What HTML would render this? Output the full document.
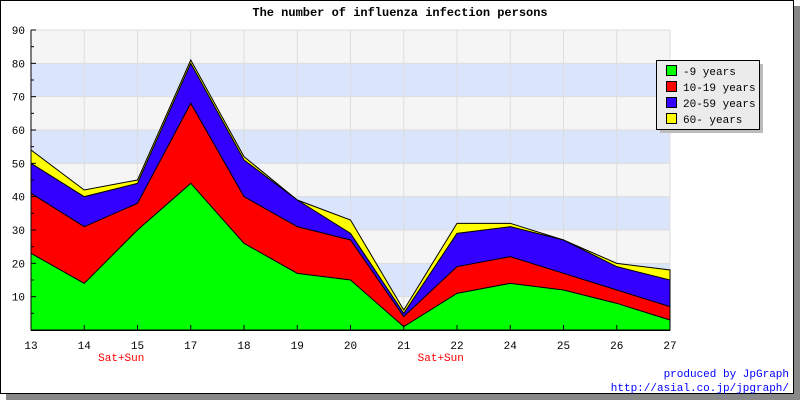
<!DOCTYPE html>
<html><head><meta charset="utf-8"><style>
body{margin:0;background:#fff}
svg{display:block;font-family:"Liberation Mono","DejaVu Sans Mono",monospace}
</style></head><body>
<svg width="800" height="400" viewBox="0 0 800 400">
<rect x="6" y="6" width="794" height="394" fill="#888"/>
<rect x="0.5" y="0.5" width="793" height="393" fill="#fff" stroke="#000"/>
<text x="400" y="16" text-anchor="middle" font-weight="bold" font-size="12">The number of influenza infection persons</text>
<g id="bands"></g><g id="grid"></g><g id="areas"></g><g id="axes"></g>
<g>
<rect x="660" y="64" width="103" height="69" fill="#bbb"/>
<rect x="656.5" y="60.5" width="103" height="69" fill="#ebebeb" stroke="#000"/>
<rect x="666.5" y="65.5" width="10" height="10" fill="#00ff00" stroke="#000"/><text x="683" y="75" font-size="11">-9 years</text>
<rect x="666.5" y="81.5" width="10" height="10" fill="#ff0000" stroke="#000"/><text x="683" y="91" font-size="11">10-19 years</text>
<rect x="666.5" y="97.5" width="10" height="10" fill="#3300ff" stroke="#000"/><text x="683" y="107" font-size="11">20-59 years</text>
<rect x="666.5" y="113.5" width="10" height="10" fill="#ffff00" stroke="#000"/><text x="683" y="123" font-size="11">60- years</text>
</g>
<text x="789" y="377" text-anchor="end" font-size="11" fill="#0000ff">produced by JpGraph</text>
<text x="789" y="391" text-anchor="end" font-size="11" fill="#0000ff">http://asial.co.jp/jpgraph/</text>
</svg>
<script>
const categories=["13","14","15","17","18","19","20","21","22","24","25","26","27"];
const age0_9=[23,14,30,44,26,17,15,1,11,14,12,8,3];
const age10_19=[18,17,8,24,14,14,12,3,8,8,5,4,4];
const age20_59=[9,9,6,12,11,8,2,1,10,9,10,7,8];
const age60=[4,2,1,1,1,0,4,1,3,1,0,1,3];
const yTicks=[10,20,30,40,50,60,70,80,90];
const notes={"14":"Sat+Sun","21":"Sat+Sun"};
const X0=31,X1=670,Y0=330,Y1=30,YMAX=90;
const xs=i=>X0+i*(X1-X0)/(categories.length-1);
const ys=v=>Y0-v*(Y0-Y1)/YMAX;
const NS="http://www.w3.org/2000/svg";
function mk(p,t,a){const e=document.createElementNS(NS,t);for(const k in a)e.setAttribute(k,a[k]);p.appendChild(e);return e;}
const bands=document.getElementById('bands'),grid=document.getElementById('grid'),areas=document.getElementById('areas'),axes=document.getElementById('axes');
for(let v=0;v<YMAX;v+=10){const r=mk(bands,'rect',{x:X0,y:ys(v+10),width:X1-X0,height:ys(v)-ys(v+10),fill:(v/10)%2===1?'#dae4fb':'#f5f5f5'});

}
categories.forEach((c,i)=>{const l=mk(grid,'line',{x1:xs(i),x2:xs(i),y1:Y1,y2:Y0,stroke:'#ddd'});

});
yTicks.forEach(v=>{const l=mk(grid,'line',{x1:X0,x2:X1,y1:ys(v),y2:ys(v),stroke:'#ddd'});

});
const series=[age0_9,age10_19,age20_59,age60],colors=['#00ff00','#ff0000','#3300ff','#ffff00'],names=['area-0-9','area-10-19','area-20-59','area-60'];
let cum=categories.map(()=>0);
const layers=series.map(s=>{const lo=cum.slice();cum=cum.map((c,i)=>c+s[i]);return [lo,cum.slice()];});
for(let k=layers.length-1;k>=0;k--){const hi=layers[k][1];
let d=`M${xs(0)},${Y0}`;hi.forEach((v,i)=>d+=`L${xs(i)},${ys(v)}`);d+=`L${xs(hi.length-1)},${Y0}Z`;
const p=mk(areas,'path',{d,fill:colors[k],stroke:'#000','stroke-width':1});

}
mk(axes,'line',{x1:X0,x2:X0,y1:Y1,y2:Y0,stroke:'#000'});
mk(axes,'line',{x1:X0,x2:X1,y1:Y0+0.5,y2:Y0+0.5,stroke:'#000'});
for(let v=0;v<=YMAX;v+=5){mk(axes,'line',{x1:X0,x2:X0+(v%10?3:5),y1:ys(v),y2:ys(v),stroke:'#000'});}
yTicks.forEach(v=>{const t=mk(axes,'text',{x:25,y:ys(v)+4,'text-anchor':'end','font-size':11});t.textContent=v;

});
categories.forEach((c,i)=>{mk(axes,'line',{x1:xs(i),x2:xs(i),y1:Y0,y2:Y0-5,stroke:'#000'});
const t=mk(axes,'text',{x:xs(i),y:349,'text-anchor':'middle','font-size':11});t.textContent=c;


if(notes[c]){const n=mk(axes,'text',{x:xs(i)+37,y:361,'text-anchor':'middle','font-size':11,fill:'#ff0000'});n.textContent=notes[c];

}});
</script>
</body></html>
